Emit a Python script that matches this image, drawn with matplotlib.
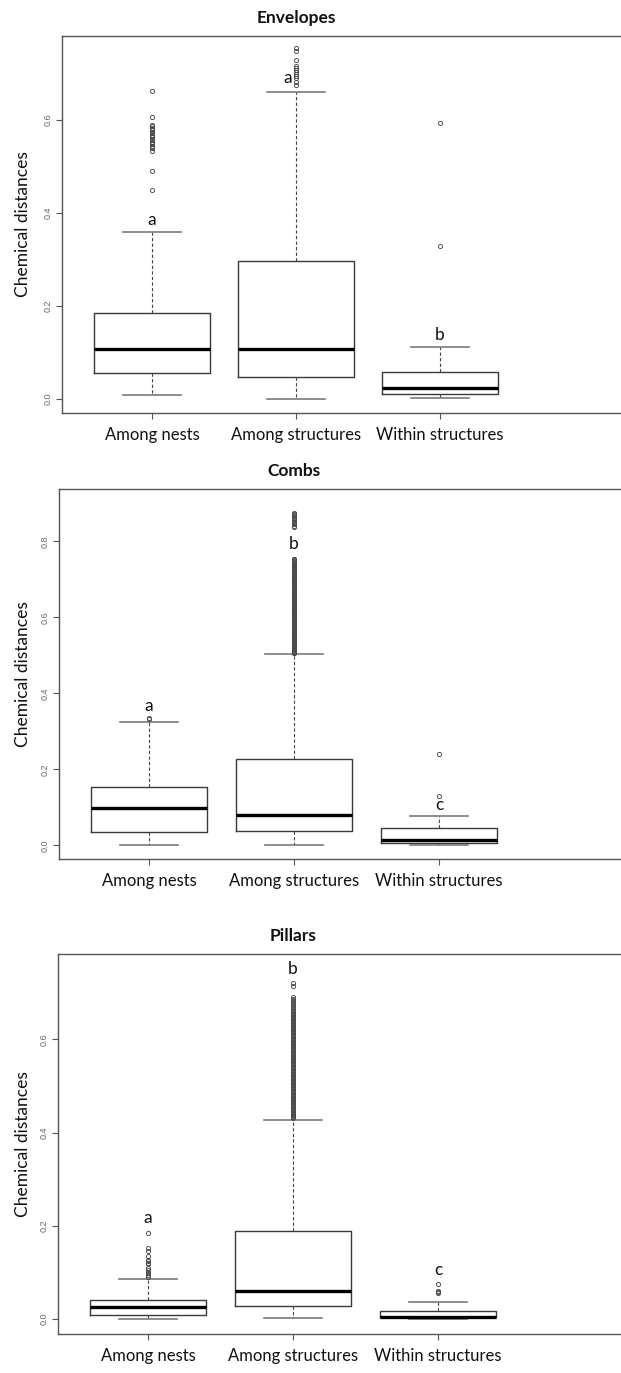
import numpy as np
import matplotlib.pyplot as plt

groups = ["Among nests", "Among structures", "Within structures"]

# ---------------- Envelopes ----------------
env_whislo = [0.009, 0.001, 0.003]
env_q1 = [0.056, 0.047, 0.010]
env_med = [0.107, 0.107, 0.024]
env_q3 = [0.186, 0.297, 0.058]
env_whishi = [0.360, 0.661, 0.112]
env_fliers = [
    [0.663, 0.606, 0.590, 0.587, 0.584, 0.581, 0.578, 0.575, 0.572, 0.569,
     0.566, 0.563, 0.560, 0.557, 0.554, 0.551, 0.548, 0.545, 0.542, 0.539,
     0.533, 0.490, 0.450],
    [0.755, 0.748, 0.730, 0.716, 0.712, 0.708, 0.704, 0.700, 0.695, 0.690,
     0.682, 0.676],
    [0.593, 0.330],
]
env_letters = ["a", "a", "b"]
env_letter_x = [1.0, 1.94, 3.0]
env_letter_y = [0.385, 0.690, 0.138]

# ---------------- Combs ----------------
comb_whislo = [0.000, 0.000, 0.001]
comb_q1 = [0.034, 0.039, 0.006]
comb_med = [0.097, 0.081, 0.013]
comb_q3 = [0.154, 0.226, 0.046]
comb_whishi = [0.324, 0.504, 0.076]
comb_fliers = [
    [0.333, 0.336],
    [0.876, 0.873, 0.870, 0.866, 0.862, 0.858, 0.855, 0.852, 0.849, 0.845,
     0.841, 0.837,
     0.7550, 0.7525, 0.7500, 0.7475, 0.7450, 0.7425, 0.7400, 0.7375, 0.7350,
     0.7325, 0.7300, 0.7275, 0.7250, 0.7225, 0.7200, 0.7175, 0.7150, 0.7125,
     0.7100, 0.7075, 0.7050, 0.7025, 0.7000, 0.6975, 0.6950, 0.6925, 0.6900,
     0.6875, 0.6850, 0.6825, 0.6800, 0.6775, 0.6750, 0.6725, 0.6700, 0.6675,
     0.6650, 0.6625, 0.6600, 0.6575, 0.6550, 0.6525, 0.6500, 0.6475, 0.6450,
     0.6425, 0.6400, 0.6375, 0.6350, 0.6325, 0.6300, 0.6275, 0.6250, 0.6225,
     0.6200, 0.6175, 0.6150, 0.6125, 0.6100, 0.6075, 0.6050, 0.6025, 0.6000,
     0.5975, 0.5950, 0.5925, 0.5900, 0.5875, 0.5850, 0.5825, 0.5800, 0.5775,
     0.5750, 0.5725, 0.5700, 0.5675, 0.5650, 0.5625, 0.5600, 0.5575, 0.5550,
     0.5525, 0.5500, 0.5475, 0.5450, 0.5425, 0.5400, 0.5375, 0.5350, 0.5325,
     0.5300, 0.5275, 0.5250, 0.5225, 0.5200, 0.5175, 0.5150, 0.5125, 0.5100,
     0.5075, 0.5055],
    [0.241, 0.130],
]
comb_letters = ["a", "b", "c"]
comb_letter_x = [1.0, 2.0, 3.0]
comb_letter_y = [0.368, 0.794, 0.107]

# ---------------- Pillars ----------------
pill_whislo = [0.000, 0.003, 0.000]
pill_q1 = [0.009, 0.028, 0.004]
pill_med = [0.025, 0.061, 0.005]
pill_q3 = [0.040, 0.189, 0.018]
pill_whishi = [0.086, 0.428, 0.036]
pill_fliers = [
    [0.184, 0.153, 0.145, 0.135, 0.127, 0.124, 0.121, 0.118, 0.110, 0.106,
     0.102, 0.098, 0.094, 0.090],
    [0.720, 0.714, 0.690, 0.687, 0.684, 0.680, 0.677, 0.674, 0.670, 0.667,
     0.6625, 0.6600, 0.6575, 0.6550, 0.6525, 0.6500, 0.6475, 0.6450, 0.6425,
     0.6400, 0.6375, 0.6350, 0.6325, 0.6300, 0.6275, 0.6250, 0.6225, 0.6200,
     0.6175, 0.6150, 0.6125, 0.6100, 0.6075, 0.6050, 0.6025, 0.6000, 0.5975,
     0.5950, 0.5925, 0.5900, 0.5875, 0.5850, 0.5825, 0.5800, 0.5775, 0.5750,
     0.5725, 0.5700, 0.5675, 0.5650, 0.5625, 0.5600, 0.5575, 0.5550, 0.5525,
     0.5500, 0.5475, 0.5450, 0.5425, 0.5400, 0.5375, 0.5350, 0.5325, 0.5300,
     0.5275, 0.5250, 0.5225, 0.5200, 0.5175, 0.5150, 0.5125, 0.5100, 0.5075,
     0.5050, 0.5025, 0.5000, 0.4975, 0.4950, 0.4925, 0.4900, 0.4875, 0.4850,
     0.4825, 0.4800, 0.4775, 0.4750, 0.4725, 0.4700, 0.4675, 0.4650, 0.4625,
     0.4600, 0.4575, 0.4550, 0.4525, 0.4500, 0.4475, 0.4450, 0.4425, 0.4400,
     0.4375, 0.4350, 0.4325, 0.4305],
    [0.076, 0.060, 0.058, 0.056],
]
pill_letters = ["a", "b", "c"]
pill_letter_x = [1.0, 2.0, 3.0]
pill_letter_y = [0.216, 0.750, 0.106]

W, H = 621, 1373
GREY = "#555555"

fig = plt.figure(figsize=(W / 100, H / 100), dpi=100)


def draw_panel(title, whislo, q1, med, q3, whishi, fliers,
               letters, lx, ly, geom, ylim, yticks):
    left, top, bottom, tick1, step = geom
    right = 720
    ax = fig.add_axes([left / W, 1 - bottom / H, (right - left) / W, (bottom - top) / H])
    stats = []
    for i in range(len(groups)):
        stats.append(dict(med=med[i], q1=q1[i], q3=q3[i], whislo=whislo[i],
                          whishi=whishi[i], fliers=np.array(fliers[i]),
                          label=groups[i]))
    ax.bxp(stats, positions=[1, 2, 3], widths=0.8, capwidths=0.4,
           boxprops=dict(color="#3a3a3a", linewidth=1.0),
           medianprops=dict(color="black", linewidth=2.4),
           whiskerprops=dict(color="#444444", linewidth=0.8, linestyle=(0, (3, 2))),
           capprops=dict(color="#7a7a7a", linewidth=1.2),
           flierprops=dict(marker="o", markersize=3.0, markerfacecolor="none",
                           markeredgecolor="#4a4a4a", markeredgewidth=0.65,
                           linestyle="none"))
    x0 = 1 - (tick1 - left) / step
    x1 = 1 + (right - tick1) / step
    ax.set_xlim(x0, x1)
    ax.set_ylim(*ylim)
    for s in ax.spines.values():
        s.set_color(GREY)
        s.set_linewidth(1.0)
    ax.spines["right"].set_visible(False)

    ax.set_xticks([1, 2, 3])
    ax.set_xticklabels(groups, fontsize=12, family="Lato", color="#111111")
    ax.tick_params(axis="x", length=4, color=GREY, pad=6)
    ax.set_yticks(yticks)
    ax.set_yticklabels(["%.1f" % v for v in yticks], rotation=90, va="center",
                       fontsize=6.5, color="#666666", family="Liberation Sans")
    ax.tick_params(axis="y", length=4, color=GREY, pad=3)

    ax.set_ylabel("Chemical distances", fontsize=12.5, family="Lato", color="#111111")
    ax.yaxis.set_label_coords((31 - left) / (right - left), 0.5)

    ax.annotate(title, xy=(2, 1), xycoords=("data", "axes fraction"),
                xytext=(0, 13), textcoords="offset points",
                ha="center", va="center", fontsize=12.5, fontweight="bold",
                family="Lato", color="#111111")

    for t, x, y in zip(letters, lx, ly):
        ax.text(x, y, t, ha="center", va="center", fontsize=12.5,
                family="Lato", color="#111111")
    return ax


draw_panel("Envelopes", env_whislo, env_q1, env_med, env_q3, env_whishi, env_fliers,
           env_letters, env_letter_x, env_letter_y,
           (62, 36, 413, 152, 144), (-0.030, 0.781), [0.0, 0.2, 0.4, 0.6])
draw_panel("Combs", comb_whislo, comb_q1, comb_med, comb_q3, comb_whishi, comb_fliers,
           comb_letters, comb_letter_x, comb_letter_y,
           (59, 489, 859, 149, 145), (-0.036, 0.938), [0.0, 0.2, 0.4, 0.6, 0.8])
draw_panel("Pillars", pill_whislo, pill_q1, pill_med, pill_q3, pill_whishi, pill_fliers,
           pill_letters, pill_letter_x, pill_letter_y,
           (58, 954, 1334, 148, 145), (-0.032, 0.783), [0.0, 0.2, 0.4, 0.6])

fig.savefig("out.png", dpi=100)
